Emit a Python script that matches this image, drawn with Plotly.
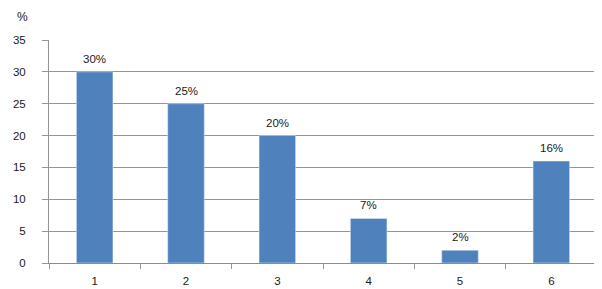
import plotly.graph_objects as go

categories = ["1", "2", "3", "4", "5", "6"]
values = [30, 25, 20, 7, 2, 16]
labels = ["30%", "25%", "20%", "7%", "2%", "16%"]

fig = go.Figure(go.Bar(
    x=categories, y=values, marker_color="#4F81BD", width=0.4,
))
for i, (v, t) in enumerate(zip(values, labels)):
    fig.add_annotation(x=i, y=v, text=t, showarrow=False, yanchor="bottom",
                       yshift=5, font=dict(size=11.5, color="#1a1a1a"))
fig.add_annotation(text="%", xref="paper", yref="paper", x=-0.049, y=1.103,
                   xanchor="center", yanchor="middle", showarrow=False,
                   font=dict(size=12))
fig.update_layout(
    width=602, height=289,
    margin=dict(l=41, r=13, t=32, b=34, autoexpand=False),
    plot_bgcolor="white", paper_bgcolor="white",
    font=dict(family="Liberation Sans", size=11.5, color="#1a1a1a"),
    showlegend=False,
)
fig.update_yaxes(range=[0, 35], dtick=5, showgrid=True, gridcolor="#959595",
                 gridwidth=1, showline=True, linecolor="#959595",
                 ticks="outside", ticklen=6, tickcolor="#959595", zeroline=False,
                 automargin=False, ticklabelstandoff=14)
fig.update_xaxes(type="category", showline=True, linecolor="#8C8C8C",
                 ticks="outside", tickson="boundaries", ticklen=5,
                 tickcolor="#959595", automargin=False, ticklabelstandoff=7)
fig.write_html("out.html")
